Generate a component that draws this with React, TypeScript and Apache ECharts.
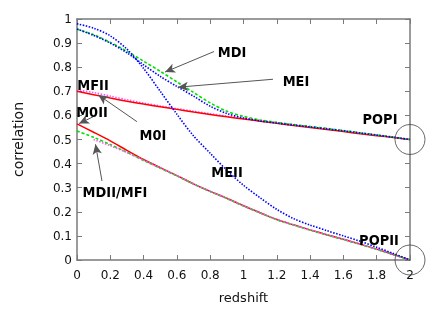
import React, { useEffect, useRef } from "react";
import * as echarts from "echarts";

const xs = [0, 0.1, 0.2, 0.3, 0.4, 0.5, 0.6, 0.7, 0.8, 0.9, 1.0, 1.1, 1.2, 1.3, 1.4, 1.5, 1.6, 1.7, 1.8, 1.9, 2.0];

const mdI = [0.958, 0.935, 0.903, 0.866, 0.825, 0.783, 0.739, 0.695, 0.652, 0.617, 0.596, 0.581, 0.571, 0.562, 0.554, 0.546, 0.537, 0.528, 0.519, 0.51, 0.5];
const meI = [0.958, 0.932, 0.9, 0.86, 0.81, 0.762, 0.72, 0.68, 0.638, 0.608, 0.589, 0.577, 0.568, 0.56, 0.552, 0.544, 0.536, 0.527, 0.518, 0.509, 0.5];
const meII = [0.98, 0.962, 0.93, 0.875, 0.795, 0.7, 0.605, 0.515, 0.443, 0.372, 0.31, 0.258, 0.21, 0.172, 0.145, 0.122, 0.1, 0.078, 0.053, 0.027, 0.0];
const m0I = [0.7, 0.686, 0.672, 0.659, 0.647, 0.636, 0.625, 0.614, 0.604, 0.594, 0.585, 0.576, 0.567, 0.558, 0.55, 0.541, 0.533, 0.524, 0.516, 0.508, 0.5];
const mfII = [0.705, 0.695, 0.68, 0.665, 0.651, 0.639, 0.628, 0.617, 0.607, 0.597, 0.588, 0.579, 0.57, 0.561, 0.553, 0.544, 0.536, 0.527, 0.519, 0.51, 0.5];
const m0II = [0.565, 0.53, 0.494, 0.455, 0.417, 0.383, 0.35, 0.316, 0.285, 0.256, 0.225, 0.196, 0.168, 0.146, 0.125, 0.105, 0.086, 0.066, 0.045, 0.023, 0.0];
const mdII = [0.535, 0.509, 0.479, 0.447, 0.413, 0.381, 0.349, 0.315, 0.284, 0.255, 0.224, 0.195, 0.167, 0.145, 0.124, 0.104, 0.085, 0.065, 0.044, 0.022, 0.0];
const mfI = [null, 0.5, 0.474, 0.446, 0.414, 0.382, 0.35, 0.316, 0.285, 0.256, 0.225, 0.196, 0.168, 0.146, 0.125, 0.105, 0.086, 0.066, 0.045, 0.023, 0.0];

const xTickLabels = ["0", "0.2", "0.4", "0.6", "0.8", "1", "1.2", "1.4", "1.6", "1.8", "2"];
const yTickLabels = ["0", "0.1", "0.2", "0.3", "0.4", "0.5", "0.6", "0.7", "0.8", "0.9", "1"];

const popPoints = [[2, 0.5], [2, 0]];

// arrows: [fromX, fromY, toX, toY] in data units
const arrows = [
  [0.823, 0.865, 0.529, 0.78],
  [1.177, 0.75, 0.607, 0.717],
  [0.36, 0.574, 0.128, 0.685],
  [0.096, 0.594, 0.012, 0.566],
  [0.15, 0.328, 0.111, 0.48],
];

const labels = [
  { text: "MDI", x: 232, y: 52 },
  { text: "MEI", x: 296, y: 81 },
  { text: "MFII", x: 93, y: 85 },
  { text: "M0II", x: 92, y: 112 },
  { text: "M0I", x: 153, y: 135 },
  { text: "MDII/MFI", x: 115, y: 192 },
  { text: "MEII", x: 227, y: 172 },
  { text: "POPI", x: 380, y: 119 },
  { text: "POPII", x: 379, y: 240 },
];

function toPairs(vals: (number | null)[]) {
  const out: number[][] = [];
  vals.forEach((v, i) => {
    if (v !== null) out.push([xs[i], v]);
  });
  return out;
}

function lineSeries(name: string, vals: (number | null)[], color: string, type: any, width: number, z: number) {
  return {
    name,
    type: "line",
    data: toPairs(vals),
    smooth: 0.3,
    showSymbol: false,
    symbol: "none",
    z,
    lineStyle: { color, type, width, cap: "butt" },
    emphasis: { disabled: true },
    silent: true,
  };
}

const axisColor = "#7a7a7a";
const tickFont = { fontFamily: "DejaVu Sans", fontSize: 12, color: "#111" };

export default function App() {
  const ref = useRef<HTMLDivElement>(null);
  useEffect(() => {
    if (!ref.current) return;
    const chart = echarts.init(ref.current, undefined, { renderer: "svg" });
    const baseX = {
      type: "value",
      min: 0,
      max: 2,
      interval: 0.2,
      splitLine: { show: false },
      axisLine: { show: true, onZero: false, lineStyle: { color: axisColor, width: 1.5 } },
      axisTick: { show: true, inside: true, length: 5, lineStyle: { color: axisColor, width: 1 } },
    };
    const baseY = {
      type: "value",
      min: 0,
      max: 1,
      interval: 0.1,
      splitLine: { show: false },
      axisLine: { show: true, onZero: false, lineStyle: { color: axisColor, width: 1.5 } },
      axisTick: { show: true, inside: true, length: 5, lineStyle: { color: axisColor, width: 1 } },
    };
    chart.setOption({
      animation: false,
      grid: { left: 77, right: 26, top: 19, bottom: 46, containLabel: false },
      xAxis: [
        {
          ...baseX,
          position: "bottom",
          name: "redshift",
          nameLocation: "middle",
          nameGap: 31,
          nameTextStyle: { fontFamily: "DejaVu Sans", fontSize: 13, color: "#111" },
          axisLabel: {
            ...tickFont,
            margin: 9,
            formatter: (v: number) => xTickLabels[Math.round(v / 0.2)] ?? "",
          },
        },
        { ...baseX, position: "top", axisLabel: { show: false } },
      ],
      yAxis: [
        {
          ...baseY,
          position: "left",
          name: "correlation",
          nameLocation: "middle",
          nameGap: 52,
          nameTextStyle: { fontFamily: "DejaVu Sans", fontSize: 14, color: "#111" },
          axisLabel: {
            ...tickFont,
            margin: 5,
            formatter: (v: number) => yTickLabels[Math.round(v / 0.1)] ?? "",
          },
        },
        { ...baseY, position: "right", axisLabel: { show: false } },
      ],
      series: [
        lineSeries("MFII", mfII, "#ff55ff", [1.5, 1.5], 1.6, 2),
        lineSeries("M0I", m0I, "#ff0000", "solid", 1.5, 3),
        lineSeries("M0II", m0II, "#ff0000", "solid", 1.5, 2),
        lineSeries("MDII", mdII, "#00e000", [3, 2], 1.6, 3),
        lineSeries("MFI", mfI, "#ff55ff", [1.5, 1.5], 1.6, 4),
        lineSeries("MDI", mdI, "#00e000", [3, 2], 1.6, 3),
        lineSeries("MEI", meI, "#0000ff", [1.5, 1.5], 1.6, 4),
        lineSeries("MEII", meII, "#0000ff", [1.5, 1.5], 1.6, 4),
        {
          name: "POP",
          type: "scatter",
          data: popPoints,
          symbol: "circle",
          symbolSize: 30,
          clip: false,
          z: 5,
          silent: true,
          itemStyle: { color: "rgba(0,0,0,0)", borderColor: "#444", borderWidth: 1 },
          emphasis: { disabled: true },
          markLine: {
            silent: true,
            symbol: ["none", "arrow"],
            symbolSize: [7, 10],
            label: { show: false },
            emphasis: { disabled: true },
            lineStyle: { color: "#555", width: 1, type: "solid" },
            data: arrows.map((a) => [{ coord: [a[0], a[1]] }, { coord: [a[2], a[3]] }]),
          },
        },
      ],
      graphic: labels.map((l) => ({
        type: "text",
        x: l.x,
        y: l.y,
        scaleY: 1.15,
        z: 100,
        style: {
          text: l.text,
          font: 'bold 13px "DejaVu Sans"',
          fill: "#000",
          textAlign: "center",
          textVerticalAlign: "middle",
        },
      })),
    });
    return () => chart.dispose();
  }, []);
  return <div ref={ref} style={{ position: "fixed", left: 0, top: 0, width: 436, height: 309 }} />;
}
